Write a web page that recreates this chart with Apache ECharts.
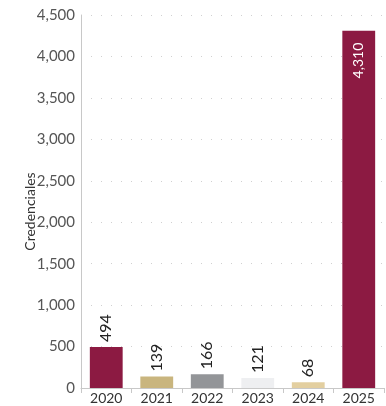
<!DOCTYPE html>
<html>
<head>
<meta charset="utf-8">
<script src="https://cdn.jsdelivr.net/npm/echarts@6/dist/echarts.min.js"></script>
<style>
  html, body { margin: 0; padding: 0; background: #fff; }
  #chart { width: 386px; height: 406px; }
</style>
</head>
<body>
<div id="chart"></div>
<script>
// datos del grafico
var years = ['2020', '2021', '2022', '2023', '2024', '2025'];
var credenciales = [494, 139, 166, 121, 68, 4310];
var colores = ['#8c1a42', '#c9b57e', '#939598', '#eeeff1', '#e3cfa0', '#8c1a42'];
var yTicks = [0, 500, 1000, 1500, 2000, 2500, 3000, 3500, 4000, 4500];

var font = 'Lato, "Open Sans", sans-serif';

var myChart = echarts.init(document.getElementById('chart'));

var data = credenciales.map(function (v, i) {
    var item = { value: v, itemStyle: { color: colores[i] } };
    if (v > 3000) {
        // etiqueta dentro de la barra
        item.label = {
            position: 'insideTop', rotate: 90, align: 'right', verticalAlign: 'middle',
            distance: 12, color: '#fff', fontSize: 14
        };
    }
    return item;
});

myChart.setOption({
    animation: false,
    grid: { left: 81, right: 2, top: 15, bottom: 18, containLabel: false },
    xAxis: {
        type: 'category',
        data: years,
        axisLine: { lineStyle: { color: '#c8c8c8' } },
        axisTick: { show: true, alignWithLabel: false, length: 5, lineStyle: { color: '#c8c8c8' } },
        axisLabel: { color: '#333', fontSize: 14, fontFamily: font, margin: 3 }
    },
    yAxis: {
        type: 'value',
        min: yTicks[0],
        max: yTicks[yTicks.length - 1],
        interval: 500,
        name: 'Credenciales',
        nameLocation: 'middle',
        nameGap: 44,
        nameMoveOverlap: false,
        nameTextStyle: { color: '#333', fontSize: 14, fontFamily: font, padding: [0, 20, 0, 0] },
        axisLine: { show: true, lineStyle: { color: '#c8c8c8' } },
        axisTick: { show: false },
        axisLabel: {
            color: '#555', fontSize: 15, fontFamily: font, margin: 6,
            formatter: function (v) { return v.toLocaleString('en-US'); }
        },
        splitLine: { show: true, lineStyle: { color: '#d0d0d0', type: [1, 9] } }
    },
    series: [{
        type: 'bar',
        data: data,
        barWidth: '65%',
        label: {
            show: true,
            position: 'top',
            rotate: 90,
            align: 'left',
            verticalAlign: 'middle',
            distance: 5,
            color: '#222',
            fontSize: 16,
            fontFamily: font,
            formatter: function (p) { return p.value.toLocaleString('en-US'); }
        }
    }]
});
</script>
</body>
</html>
